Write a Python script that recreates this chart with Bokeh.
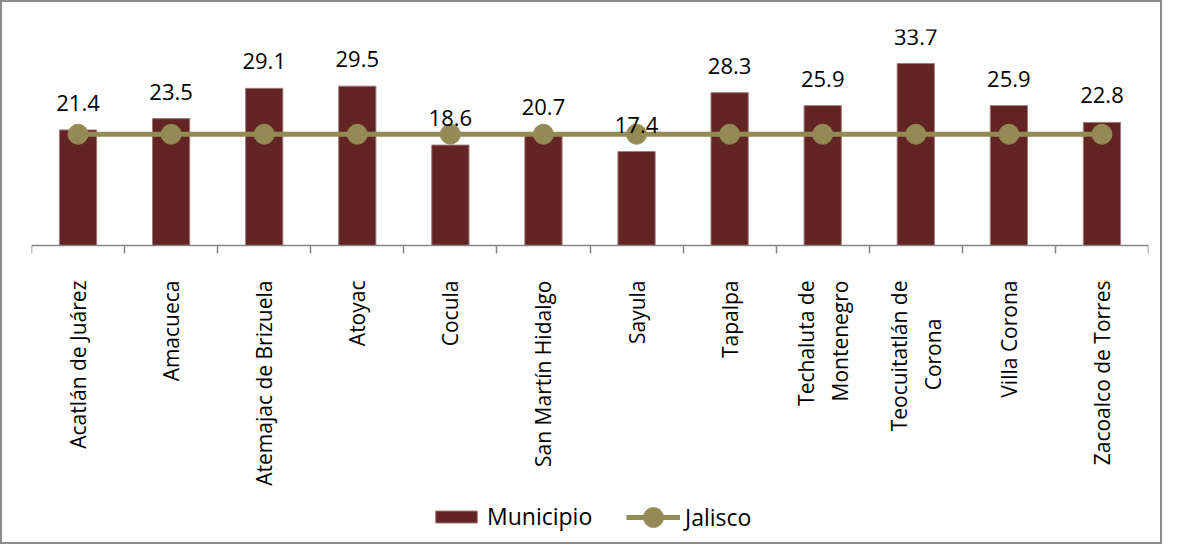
import math
from bokeh.plotting import figure
from bokeh.models import (Range1d, FixedTicker, LinearAxis, Legend, LegendItem,
                          ColumnDataSource)
from bokeh.core.properties import value
from bokeh.embed import file_html
from bokeh.resources import INLINE

NB = "\u00a0"
municipios = ["Acatlán de Juárez", "Amacueca", "Atemajac de Brizuela", "Atoyac",
              "Cocula", "San Martín Hidalgo", "Sayula", "Tapalpa",
              "Techaluta de\nMontenegro", "Teocuitatlán de\nCorona" + NB * 7,
              "Villa Corona", "Zacoalco de Torres"]
municipio = [21.4, 23.5, 29.1, 29.5, 18.6, 20.7, 17.4, 28.3, 25.9, 33.7, 25.9, 22.8]
jalisco = [20.6, 20.6, 20.6, 20.6, 20.6, 20.6, 20.6, 20.6, 20.6, 20.6, 20.6, 20.6]

BAR = "#632523"
LINE = "#948A54"
FONT = "Open Sans"

n = len(municipios)
centers = [i + 0.5 for i in range(n)]
bounds = [i for i in range(n + 1)]

src = ColumnDataSource(dict(x=centers, municipio=municipio, jalisco=jalisco,
                            lbl=[f"{v:.1f}" for v in municipio]))

p = figure(frame_width=1117, frame_height=513,
           x_range=Range1d(0, n), y_range=Range1d(-55, 40),
           output_backend="svg", toolbar_location=None,
           x_axis_location=None, y_axis_location=None,
           min_border_left=29, min_border_right=12, min_border_top=27,
           min_border_bottom=0)
p.grid.visible = False
p.outline_line_color = None
p.background_fill_color = "white"
p.border_fill_color = "white"
p.styles = {"border": "2px solid #8c8c8c"}

xaxis = LinearAxis(ticker=FixedTicker(ticks=centers, minor_ticks=bounds),
                   major_label_overrides={c: m for c, m in zip(centers, municipios)},
                   fixed_location=0)
xaxis.axis_line_color = "#868686"
xaxis.axis_line_width = 1.5
xaxis.major_tick_line_color = None
xaxis.major_tick_in = 0
xaxis.major_tick_out = 0
xaxis.minor_tick_line_color = "#868686"
xaxis.minor_tick_line_width = 1.5
xaxis.minor_tick_in = 0
xaxis.minor_tick_out = 8
xaxis.major_label_orientation = math.pi / 2
xaxis.major_label_standoff = 27
xaxis.major_label_text_font = FONT
xaxis.major_label_text_font_size = "21px"
xaxis.major_label_text_color = "black"
p.add_layout(xaxis, "below")

bars = p.vbar(x="x", top="municipio", width=0.4, source=src,
              fill_color=BAR, line_color="#a27a79", line_width=1)
ln = p.line(x="x", y="jalisco", source=src, line_color=LINE, line_width=5)
pts = p.scatter(x="x", y="jalisco", source=src, size=20,
                fill_color=LINE, line_color=LINE)

p.text(x="x", y="municipio", text="lbl", source=src,
       text_align="center", text_baseline="alphabetic", y_offset=-27,
       text_font=value(FONT), text_font_size="22px", text_color="black")

def style_legend(lg):
    lg.label_text_font = FONT
    lg.label_text_font_size = "23px"
    lg.label_text_color = "black"
    lg.label_standoff = 5
    lg.margin = 0
    lg.border_line_color = None
    lg.background_fill_alpha = 0

leg1 = Legend(items=[LegendItem(label="Municipio", renderers=[bars])],
              orientation="horizontal", location=(399, 10))
style_legend(leg1)
leg1.glyph_width = 52
leg1.glyph_height = 15
leg1.padding = 5
p.add_layout(leg1, "center")

leg2 = Legend(items=[LegendItem(label="Jalisco", renderers=[ln, pts])],
              orientation="horizontal", location=(595, 0))
style_legend(leg2)
leg2.glyph_width = 54
leg2.glyph_height = 50
leg2.padding = 0
p.add_layout(leg2, "center")

open("out.html", "w").write(file_html(p, INLINE))
